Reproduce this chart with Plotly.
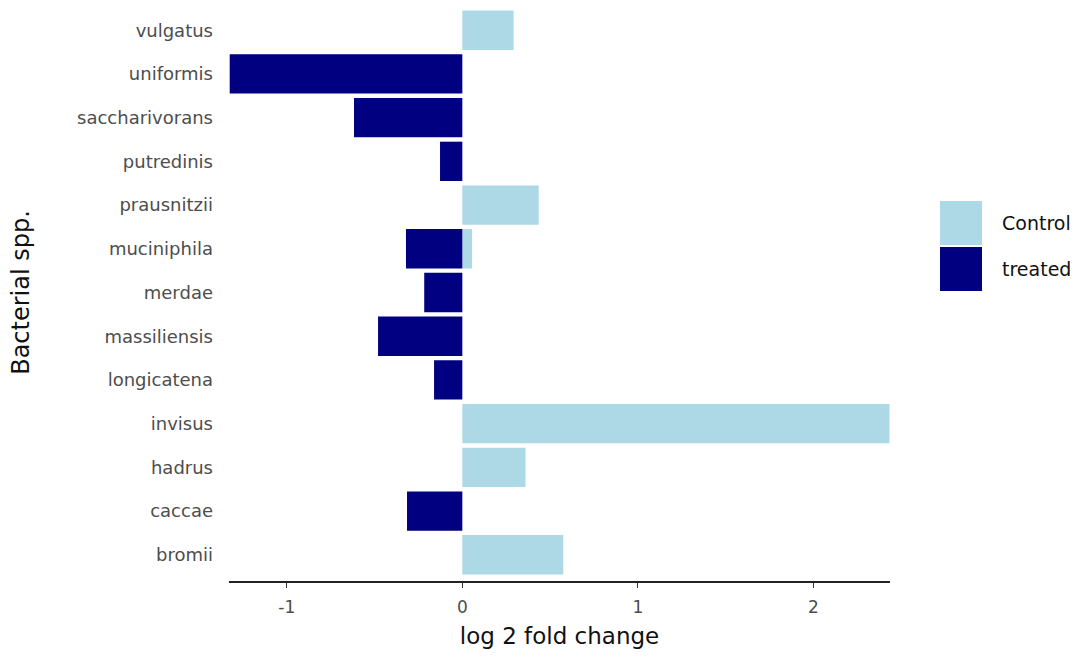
import plotly.graph_objects as go

# Species, bottom to top on the category axis
species = ["bromii", "caccae", "hadrus", "invisus", "longicatena", "massiliensis",
           "merdae", "muciniphila", "prausnitzii", "putredinis", "saccharivorans",
           "uniformis", "vulgatus"]

# log2 fold change per group
control_species = ["bromii", "hadrus", "invisus", "muciniphila", "prausnitzii", "vulgatus"]
control_lfc = [0.575, 0.36, 2.433, 0.055, 0.435, 0.292]

treated_species = ["caccae", "longicatena", "massiliensis", "merdae", "muciniphila",
                   "putredinis", "saccharivorans", "uniformis"]
treated_lfc = [-0.315, -0.161, -0.48, -0.217, -0.321, -0.127, -0.617, -1.325]

x_ticks = [-1, 0, 1, 2]
groups = ["Control", "treated"]
colors = {"Control": "#ADD8E6", "treated": "#000080"}

FONT = "DejaVu Sans"
W, H = 1084, 659
ML, MR, MT, MB = 229, 194, 4, 78
PW, PH = W - ML - MR, H - MT - MB


def px_to_paper(px, py):
    return (px - ML) / PW, (H - MB - py) / PH


fig = go.Figure()
fig.add_trace(go.Bar(y=control_species, x=control_lfc, orientation="h", name="Control",
                     marker=dict(color=colors["Control"], line=dict(width=0)),
                     showlegend=False))
fig.add_trace(go.Bar(y=treated_species, x=treated_lfc, orientation="h", name="treated",
                     marker=dict(color=colors["treated"], line=dict(width=0)),
                     showlegend=False))

# Hand-drawn legend with large square keys
shapes = []
annotations = []
key_tops = [201, 247]
for g, top in zip(groups, key_tops):
    x0, y0 = px_to_paper(940, top + 44)
    x1, y1 = px_to_paper(982, top)
    shapes.append(dict(type="rect", xref="paper", yref="paper", x0=x0, x1=x1, y0=y0, y1=y1,
                       fillcolor=colors[g], line=dict(width=0)))
    tx, ty = px_to_paper(1000, top + 22)
    annotations.append(dict(xref="paper", yref="paper", x=tx, y=ty, text=g, showarrow=False,
                            xanchor="left", yanchor="middle",
                            font=dict(family=FONT, size=19, color="#111111")))

fig.update_layout(
    width=W, height=H,
    margin=dict(l=ML, r=MR, t=MT, b=MB),
    paper_bgcolor="white", plot_bgcolor="white",
    barmode="relative", bargap=0.1,
    shapes=shapes, annotations=annotations,
    font=dict(family=FONT),
)
fig.update_xaxes(
    range=[-1.329, 2.436], tickvals=x_ticks, ticktext=[str(v) for v in x_ticks],
    showgrid=False, zeroline=False,
    showline=True, linecolor="#222222", linewidth=1.6,
    ticks="outside", ticklen=5, tickwidth=1.4, tickcolor="#333333",
    ticklabelstandoff=5,
    tickfont=dict(family=FONT, size=17, color="#4D4D4D"),
    title=dict(text="log 2 fold change", font=dict(family=FONT, size=23, color="#111111"),
               standoff=12),
)
fig.update_yaxes(
    categoryorder="array", categoryarray=species, range=[-0.6, 12.6],
    showgrid=False, zeroline=False, showline=False, ticks="",
    ticklabelstandoff=15,
    tickfont=dict(family=FONT, size=18, color="#4D4D4D"),
    title=dict(text="Bacterial spp.", font=dict(family=FONT, size=24, color="#111111"),
               standoff=40),
)

fig.write_html("out.html")
